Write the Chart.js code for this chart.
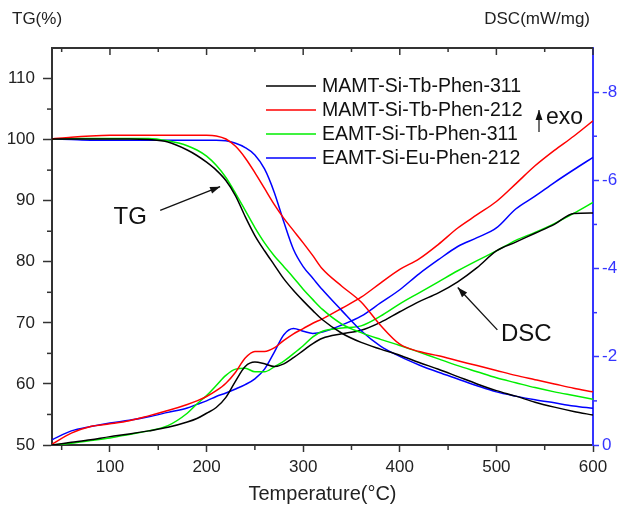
<!DOCTYPE html>
<html><head><meta charset="utf-8">
<script src="https://cdn.jsdelivr.net/npm/chart.js@4.4.0/dist/chart.umd.min.js"></script>
<style>html,body{margin:0;padding:0;background:#fff}</style>
</head><body>
<canvas id="c" width="625" height="514"></canvas>
<script>
// ---- data ----
const temps = [40,60,80,100,120,140,160,180,190,200,210,220,230,240,250,260,270,280,290,300,310,320,340,360,380,400,420,440,460,480,500,520,540,560,580,600];
const seriesNames = ['MAMT-Si-Tb-Phen-311','MAMT-Si-Tb-Phen-212','EAMT-Si-Tb-Phen-311','EAMT-Si-Eu-Phen-212'];
const seriesColors = ['#000000','#ff0000','#00ee00','#0000ff'];

const tgMAMT311 = [100.1,100.1,100.1,100.1,100.1,100.0,99.6,98.3,97.4,96.3,95.0,93.3,90.8,87.4,84.3,81.8,79.5,77.2,75.3,73.6,72.0,70.5,68.3,66.8,65.7,64.7,63.5,62.4,61.2,60.0,58.9,58.0,57.0,56.2,55.5,54.9];
const tgMAMT212 = [100.1,100.4,100.6,100.7,100.7,100.7,100.7,100.7,100.7,100.7,100.6,100.1,98.9,97.0,94.6,92.0,89.4,87.1,85.1,83.1,81.0,78.8,76.0,73.4,69.6,66.5,65.3,64.6,63.8,63.0,62.2,61.4,60.7,60.0,59.3,58.7];
const tgEAMT311 = [100.1,100.2,100.2,100.2,100.2,100.2,99.8,99.0,98.3,97.3,95.8,93.8,91.2,88.4,85.6,83.1,81.0,79.2,77.4,75.5,73.8,72.2,69.8,68.4,67.3,66.3,65.2,64.1,63.0,62.0,61.0,60.2,59.4,58.7,58.1,57.5];
const tgEAMT212 = [100.1,100.0,99.9,99.9,99.9,99.9,99.9,99.9,99.9,99.9,99.9,99.8,99.4,98.7,97.5,95.2,91.4,86.5,82.0,79.2,77.3,75.4,72.0,68.7,66.2,64.5,63.1,61.9,60.8,59.7,58.7,58.0,57.4,56.9,56.4,56.0];

const dscMAMT311 = [0,-0.06,-0.12,-0.19,-0.25,-0.32,-0.40,-0.52,-0.60,-0.72,-0.85,-1.08,-1.45,-1.78,-1.88,-1.84,-1.78,-1.84,-1.98,-2.14,-2.30,-2.42,-2.52,-2.60,-2.78,-3.02,-3.25,-3.45,-3.70,-4.02,-4.40,-4.60,-4.80,-5.00,-5.25,-5.26];
const dscMAMT212 = [-0.02,-0.27,-0.42,-0.48,-0.55,-0.66,-0.78,-0.92,-1.00,-1.10,-1.23,-1.40,-1.65,-1.97,-2.12,-2.12,-2.20,-2.37,-2.52,-2.64,-2.76,-2.86,-3.10,-3.35,-3.67,-3.98,-4.22,-4.55,-4.92,-5.22,-5.52,-5.92,-6.33,-6.68,-7.00,-7.35];
const dscEAMT311 = [0,-0.04,-0.10,-0.16,-0.24,-0.32,-0.44,-0.72,-0.93,-1.12,-1.35,-1.58,-1.72,-1.74,-1.66,-1.66,-1.77,-1.90,-2.07,-2.25,-2.45,-2.58,-2.65,-2.70,-2.92,-3.20,-3.45,-3.70,-3.95,-4.18,-4.40,-4.64,-4.82,-5.02,-5.25,-5.50];
const dscEAMT212 = [-0.12,-0.32,-0.42,-0.50,-0.56,-0.64,-0.74,-0.84,-0.92,-1.00,-1.10,-1.18,-1.27,-1.37,-1.50,-1.72,-2.10,-2.50,-2.64,-2.58,-2.53,-2.56,-2.72,-2.92,-3.22,-3.52,-3.88,-4.20,-4.50,-4.70,-4.92,-5.35,-5.64,-5.95,-6.24,-6.52];

const xTickValues = [100,200,300,400,500,600];
const xMinorValues = [50,150,250,350,450,550];
const tgTickValues = [50,60,70,80,90,100,110];
const tgMinorValues = [55,65,75,85,95,105];
const dscTickValues = [0,-2,-4,-6,-8];
const dscMinorValues = [-1,-3,-5,-7];

// annotation anchors (data coordinates)
const tgNote = {text:'TG', x:121, y:87.3, from:[152,88.4], to:[214,92.3]};
const dscNote = {text:'DSC', x:531, y:-2.5, from:[501,-2.61], to:[460,-3.57]};

// ---- build datasets ----
const tgSeries = [tgMAMT311, tgMAMT212, tgEAMT311, tgEAMT212];
const dscSeries = [dscMAMT311, dscMAMT212, dscEAMT311, dscEAMT212];
const pts = arr => temps.map((t,i)=>({x:t, y:arr[i]}));
const datasets = [];
tgSeries.forEach((s,i)=>datasets.push({label:seriesNames[i]+' TG', data:pts(s), yAxisID:'y', borderColor:seriesColors[i]}));
dscSeries.forEach((s,i)=>datasets.push({label:seriesNames[i]+' DSC', data:pts(s), yAxisID:'y2', borderColor:seriesColors[i]}));
datasets.forEach(d=>{d.borderWidth=1.5; d.pointRadius=0; d.fill=false; d.cubicInterpolationMode='monotone';});

const FONT = "'Liberation Sans', Arial, sans-serif";
const AX = '#333333';
const BLUE = '#3535ff';

function arrow(ctx, x1, y1, x2, y2) {
  ctx.beginPath(); ctx.moveTo(x1,y1); ctx.lineTo(x2,y2); ctx.stroke();
  const a = Math.atan2(y2-y1, x2-x1), L = 10, W = 3.5;
  ctx.beginPath();
  ctx.moveTo(x2,y2);
  ctx.lineTo(x2 - L*Math.cos(a) + W*Math.sin(a), y2 - L*Math.sin(a) - W*Math.cos(a));
  ctx.lineTo(x2 - L*Math.cos(a) - W*Math.sin(a), y2 - L*Math.sin(a) + W*Math.cos(a));
  ctx.closePath(); ctx.fill();
}

const deco = {
  id:'deco',
  afterDraw(chart){
    const {ctx, chartArea:{left,right,top,bottom}, scales:{x,y,y2}} = chart;
    ctx.save();
    // top frame line + ticks
    ctx.strokeStyle = AX; ctx.lineWidth = 2;
    ctx.beginPath(); ctx.moveTo(left-1, top); ctx.lineTo(right, top); ctx.stroke();
    ctx.lineWidth = 1.5;
    xTickValues.forEach(v=>{const px=x.getPixelForValue(v); ctx.beginPath(); ctx.moveTo(px,top); ctx.lineTo(px,top+7); ctx.stroke();});
    xMinorValues.forEach(v=>{const px=x.getPixelForValue(v); ctx.beginPath(); ctx.moveTo(px,top); ctx.lineTo(px,top+4); ctx.stroke();
      ctx.beginPath(); ctx.moveTo(px,bottom); ctx.lineTo(px,bottom+5); ctx.stroke();});
    tgMinorValues.forEach(v=>{const py=y.getPixelForValue(v); ctx.beginPath(); ctx.moveTo(left,py); ctx.lineTo(left-5,py); ctx.stroke();});
    ctx.strokeStyle = BLUE;
    dscMinorValues.forEach(v=>{const py=y2.getPixelForValue(v); ctx.beginPath(); ctx.moveTo(right,py); ctx.lineTo(right+4,py); ctx.stroke();});

    // axis titles
    ctx.fillStyle = '#222';
    ctx.font = '17px ' + FONT; ctx.textBaseline = 'middle';
    ctx.textAlign = 'left'; ctx.fillText('TG(%)', 12, 19);
    ctx.textAlign = 'right'; ctx.fillText('DSC(mW/mg)', 590, 19);
    ctx.font = '20px ' + FONT; ctx.textAlign = 'center';
    ctx.fillText('Temperature(\u00B0C)', (left+right)/2, 494);

    // legend
    ctx.font = '19.5px ' + FONT; ctx.textAlign = 'left';
    seriesNames.forEach((n,i)=>{
      const yy = top + 38 + i*24;
      ctx.strokeStyle = seriesColors[i]; ctx.lineWidth = 1.5;
      ctx.beginPath(); ctx.moveTo(left+214, yy); ctx.lineTo(left+264, yy); ctx.stroke();
      ctx.fillStyle = '#111'; ctx.fillText(n, left+270, yy+1);
    });
    // exo marker
    ctx.strokeStyle = '#111'; ctx.fillStyle = '#111'; ctx.lineWidth = 1.2;
    arrow(ctx, left+487, top+84, left+487, top+62);
    ctx.font = '23px ' + FONT; ctx.fillText('exo', left+494, top+70);

    // annotations
    ctx.lineWidth = 1.3;
    ctx.font = '24px ' + FONT; ctx.textAlign = 'center';
    ctx.fillText(tgNote.text, x.getPixelForValue(tgNote.x), y.getPixelForValue(tgNote.y));
    arrow(ctx, x.getPixelForValue(tgNote.from[0]), y.getPixelForValue(tgNote.from[1]), x.getPixelForValue(tgNote.to[0]), y.getPixelForValue(tgNote.to[1]));
    ctx.fillText(dscNote.text, x.getPixelForValue(dscNote.x), y2.getPixelForValue(dscNote.y));
    arrow(ctx, x.getPixelForValue(dscNote.from[0]), y2.getPixelForValue(dscNote.from[1]), x.getPixelForValue(dscNote.to[0]), y2.getPixelForValue(dscNote.to[1]));
    ctx.restore();
  }
};

Chart.defaults.font.family = FONT;
Chart.defaults.color = '#222';

new Chart(document.getElementById('c'), {
  type:'line',
  data:{datasets},
  options:{
    responsive:false, animation:false, devicePixelRatio:1,
    layout:{padding:{top:48,left:0,right:0,bottom:0}},
    plugins:{legend:{display:false}, tooltip:{enabled:false}},
    scales:{
      x:{type:'linear', min:40, max:600,
        afterBuildTicks:s=>{s.ticks = xTickValues.map(v=>({value:v}));},
        afterFit:s=>{s.height = 69;},
        border:{color:AX, width:2},
        grid:{drawOnChartArea:false, tickLength:7, color:AX, tickWidth:1.5},
        ticks:{font:{size:17}, padding:5, color:'#222', maxRotation:0}},
      y:{type:'linear', position:'left', min:50, max:115,
        afterBuildTicks:s=>{s.ticks = tgTickValues.map(v=>({value:v}));},
        afterFit:s=>{s.width = 52;},
        border:{color:AX, width:2},
        grid:{drawOnChartArea:false, tickLength:9, color:AX, tickWidth:1.5},
        ticks:{font:{size:17}, padding:8, color:'#222'}},
      y2:{type:'linear', position:'right', min:-9, max:0, reverse:true,
        afterBuildTicks:s=>{s.ticks = dscTickValues.map(v=>({value:v}));},
        afterFit:s=>{s.width = 32;},
        border:{color:BLUE, width:2},
        grid:{drawOnChartArea:false, tickLength:6, color:BLUE, tickWidth:1.5},
        ticks:{font:{size:17}, padding:3, color:BLUE}}
    }
  },
  plugins:[deco]
});
</script>
</body></html>
